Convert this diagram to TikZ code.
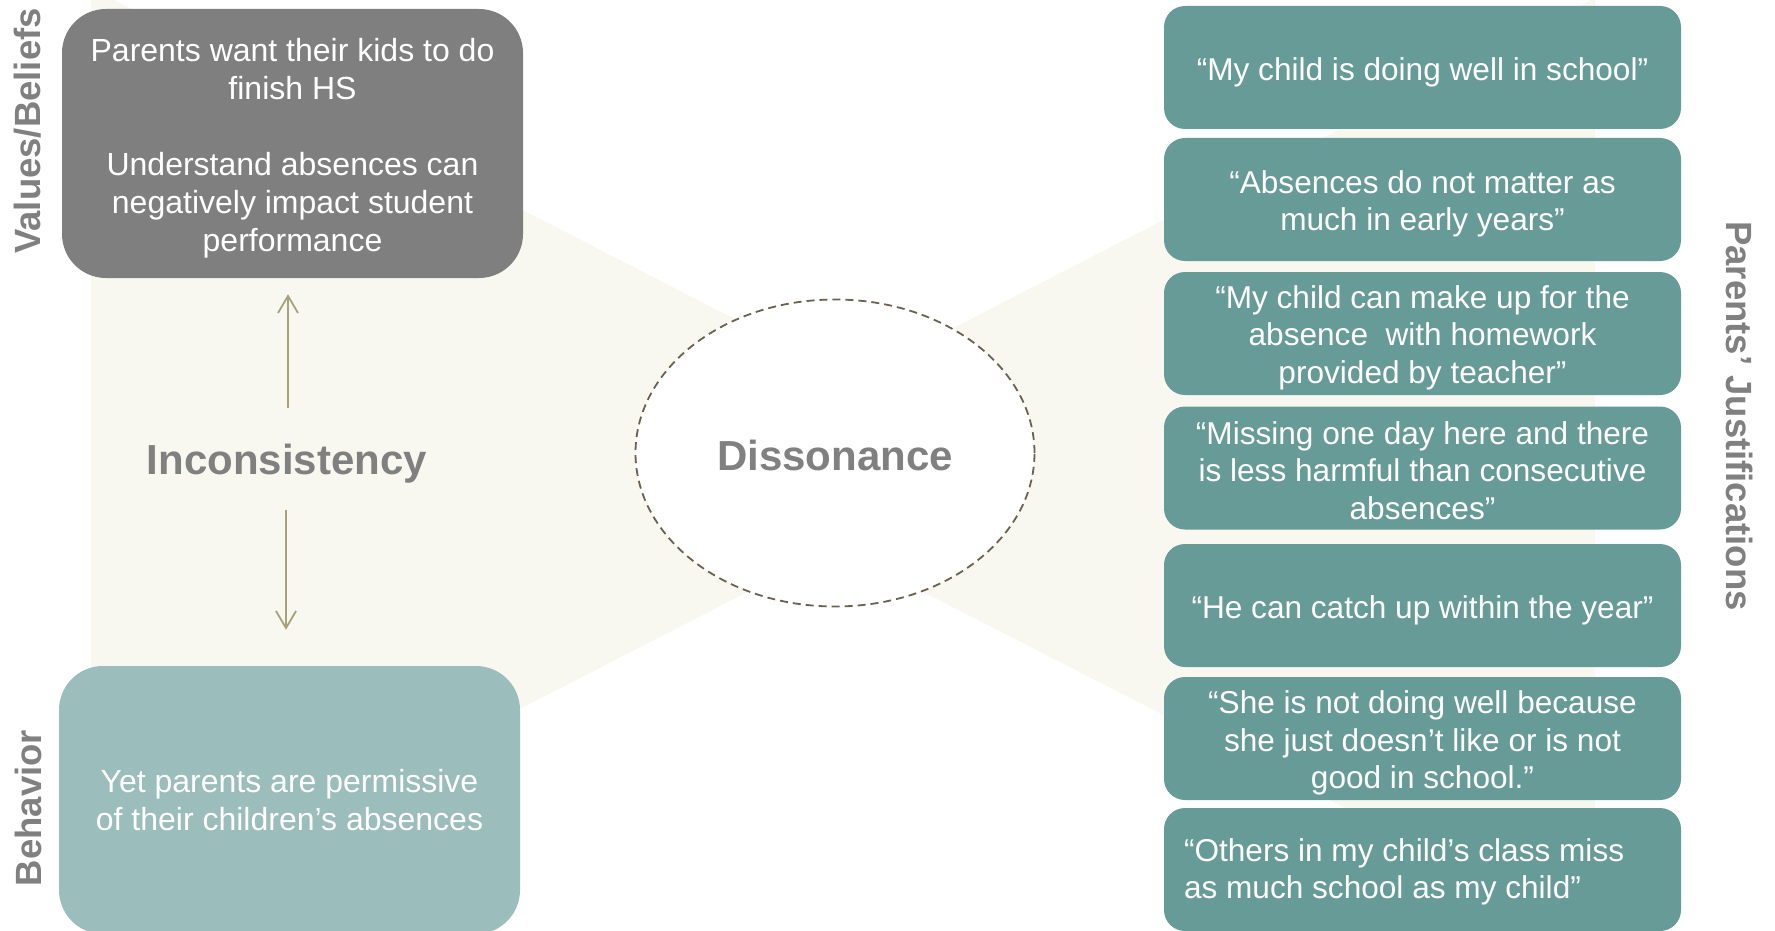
\documentclass[tikz,border=0pt]{standalone}
\usepackage{fontspec}
\setmainfont{Liberation Sans}
\usetikzlibrary{arrows.meta,shapes.geometric}
\definecolor{bgbeige}{HTML}{F8F8F1}
\definecolor{boxgray}{HTML}{7F7F7F}
\definecolor{labgray}{HTML}{808080}
\definecolor{teal}{HTML}{679B98}
\definecolor{lteal}{HTML}{9BBDBB}
\definecolor{olive}{HTML}{A8A27A}
\definecolor{dashbrown}{HTML}{6A624F}
\begin{document}
\begin{tikzpicture}[x=1pt,y=-1pt,
  bodytext/.style={font=\fontsize{32}{38}\selectfont, text=white, align=center, inner sep=0pt},
  rtext/.style={bodytext, font=\fontsize{31.6}{37.5}\selectfont},
  leftbox/.style={rounded corners=44pt, minimum width=461pt, minimum height=269pt, inner sep=0pt},
  rbox/.style={fill=teal, rounded corners=21pt, minimum width=517pt, minimum height=123pt, inner sep=0pt},
  sidelab/.style={font=\bfseries\fontsize{36.5}{40}\selectfont, text=labgray, inner sep=0pt},
  biglab/.style={font=\bfseries\fontsize{42}{48}\selectfont, text=labgray, inner sep=0pt},
  arr/.style={draw=olive, line width=1.8pt, -{Straight Barb[length=17pt,width=20pt]}}
]
\useasboundingbox (0,0) rectangle (1775,931);
% background bow-tie
\fill[bgbeige] (91,-12) -- (91,929) -- (1007,459) -- cycle;
\fill[bgbeige] (1595,-2) -- (1595,936) -- (681,468) -- cycle;
% central ellipse
\node[ellipse, draw=dashbrown, dash pattern=on 8pt off 5pt, line width=1.8pt, fill=white,
      minimum width=399pt, minimum height=307pt, inner sep=0pt] (dis) at (835,453) {};
\node[biglab] (distext) at (835,455) {Dissonance};
% left boxes
\node[leftbox, fill=boxgray] (vb) at (292.5,143.5) {};
\node[bodytext] (vbt) at ([yshift=-5pt]vb.center) {Parents want their kids to do\\finish HS\\[38pt]Understand absences can\\negatively impact student\\performance};
\node[leftbox, fill=lteal, minimum height=268pt] (beh) at (289.5,800) {};
\node[bodytext] (beht) at (beh.center) {Yet parents are permissive\\of their children’s absences};
% inconsistency
\node[biglab] (inc) at (287,464) {Inconsistency};
\coordinate (u0) at (288,408);
\coordinate (d0) at (286,510);
\draw[arr, shorten >=16pt] (u0) -- (u0 |- vb.south);
\draw[arr, shorten >=36pt] (d0) -- (d0 |- beh.north);
% side labels
\node[sidelab, rotate=90] (lvb) at (28,131) {Values/Beliefs};
\node[sidelab, rotate=90] (lbeh) at (28,808) {Behavior};
\node[sidelab, rotate=-90] (lpj) at (1740,416) {Parents’ Justifications};
% right boxes
\node[rbox] (j1) at (1422.5,67.5) {};
\node[rbox] (j2) at (1422.5,199.5) {};
\node[rbox] (j3) at (1422.5,333.5) {};
\node[rbox] (j4) at (1422.5,468) {};
\node[rbox] (j5) at (1422.5,605.5) {};
\node[rbox] (j6) at (1422.5,738.5) {};
\node[rbox] (j7) at (1422.5,869.5) {};
\node[rtext] (j1t) at ([yshift=-4.5pt]j1.center) {“My child is doing well in school”};
\node[rtext] (j2t) at ([yshift=-4.5pt]j2.center) {“Absences do not matter as\\much in early years”};
\node[rtext] (j3t) at ([yshift=-4pt]j3.center) {“My child can make up for the\\absence\ \ with homework\\provided by teacher”};
\node[rtext] (j4t) at ([yshift=-2.5pt]j4.center) {“Missing one day here and there\\is less harmful than consecutive\\absences”};
\node[rtext] (j5t) at ([yshift=-5pt]j5.center) {“He can catch up within the year”};
\node[rtext] (j6t) at ([yshift=-4.5pt]j6.center) {“She is not doing well because\\she just doesn’t like or is not\\good in school.”};
\node[rtext, align=left, anchor=west] (j7t) at ([xshift=20pt,yshift=-2.5pt]j7.west) {“Others in my child’s class miss\\as much school as my child”};
\end{tikzpicture}
\end{document}
